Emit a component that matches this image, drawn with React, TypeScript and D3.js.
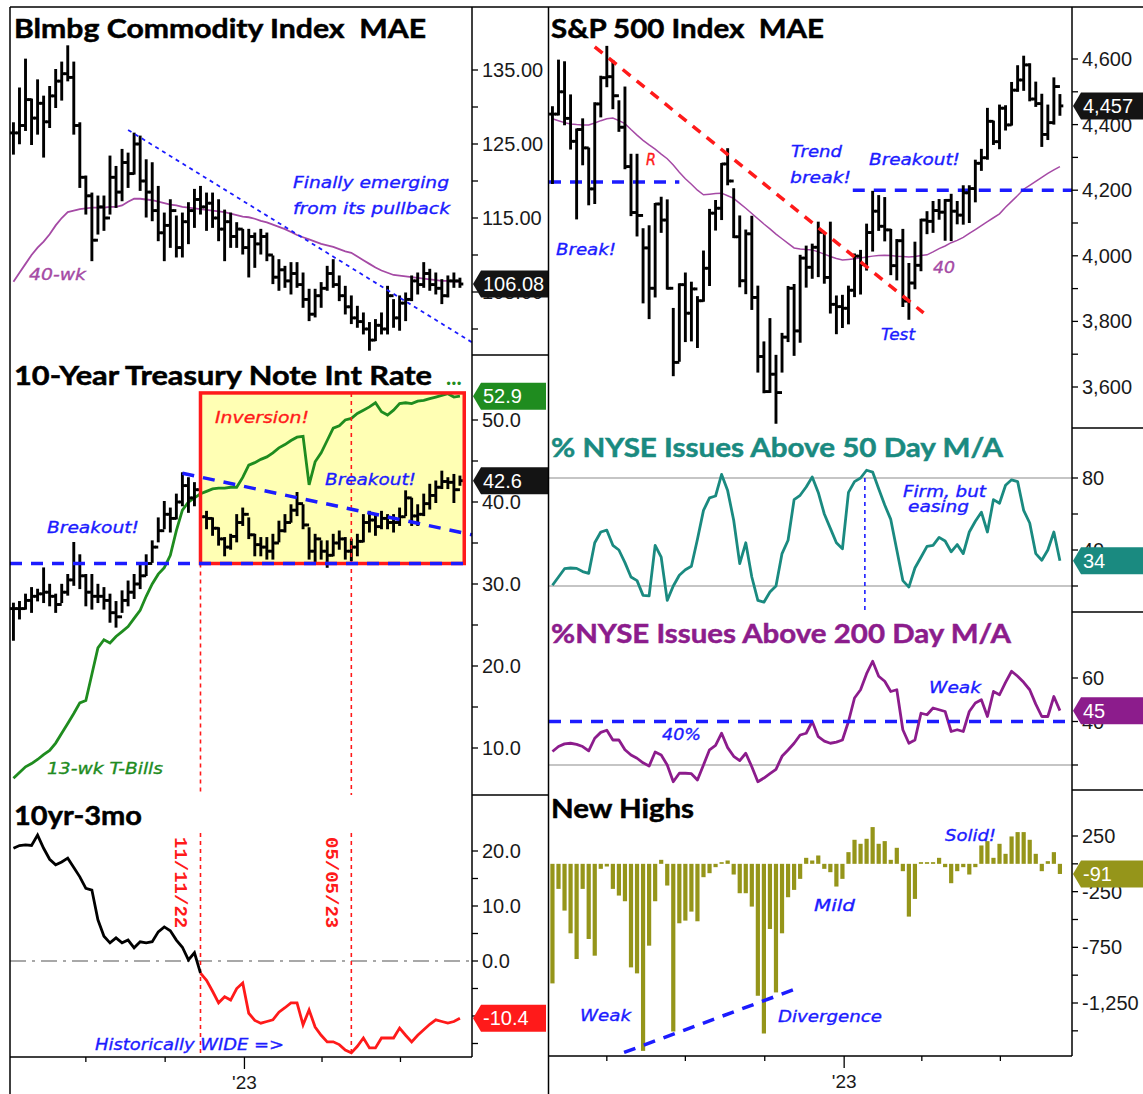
import * as d3 from 'd3'

// ─── Data ────────────────────────────────────────────────────────────────────

// weekly bars, left column (commodities / rates) and right column (equities)
const comStart = new Date(2022, 3, 8)
const spxStart = new Date(2022, 0, 28)

const comHigh = [
  127.8, 132.5, 136.4, 131.0, 133.6, 131.4, 132.7, 135.0, 136.0, 138.2,
  136.0, 127.8, 120.6, 118.3, 117.9, 117.9, 123.3, 121.9, 124.2, 123.7,
  126.4, 126.0, 122.8, 122.4, 119.2, 115.6, 117.4, 115.2, 115.6, 117.0,
  118.8, 119.2, 118.3, 118.3, 117.4, 116.0, 115.6, 114.3, 113.4, 113.4,
  112.9, 113.4, 112.9, 109.8, 109.3, 108.4, 108.9, 108.9, 107.5, 105.3,
  105.3, 106.2, 108.4, 109.3, 107.1, 105.7, 104.4, 103.0, 102.1, 100.8,
  101.2, 102.1, 105.7, 103.9, 104.4, 104.8, 107.1, 107.5, 108.9, 108.0,
  107.5, 106.6, 107.1, 107.5, 106.8,
]
const comLow = [
  123.7, 125.1, 126.9, 125.0, 126.4, 123.3, 127.3, 130.0, 131.0, 133.6,
  126.4, 119.2, 115.6, 109.3, 112.9, 113.4, 115.6, 116.5, 117.4, 119.2,
  121.0, 118.8, 115.2, 114.7, 112.0, 109.3, 111.1, 109.8, 109.8, 111.6,
  113.8, 115.6, 113.4, 113.8, 112.0, 109.3, 111.1, 111.1, 110.2, 107.1,
  108.4, 110.2, 109.3, 106.2, 105.3, 105.7, 104.8, 105.7, 103.0, 101.2,
  101.7, 103.0, 105.3, 105.7, 103.9, 102.1, 100.8, 100.3, 99.4, 97.2,
  98.5, 99.4, 99.4, 100.3, 99.9, 101.2, 103.9, 104.8, 105.7, 105.3,
  104.8, 103.5, 104.4, 105.7, 105.7,
]
const comClose = [
  126.5, 127.5, 131.0, 128.5, 130.5, 128.0, 131.5, 133.5, 134.5, 134.0,
  127.5, 120.5, 118.0, 112.0, 116.5, 115.0, 120.5, 118.5, 122.5, 121.0,
  125.0, 120.0, 118.5, 116.0, 113.0, 114.0, 116.0, 111.0, 114.5, 116.0,
  117.5, 116.5, 117.0, 115.0, 113.5, 114.5, 112.5, 113.5, 111.0, 112.5,
  111.5, 112.5, 110.0, 107.0, 108.0, 106.5, 107.5, 106.0, 104.0, 102.0,
  104.5, 105.5, 107.5, 106.0, 104.5, 103.0, 101.5, 101.0, 100.0, 98.5,
  100.5, 100.0, 104.5, 101.5, 103.5, 104.0, 106.5, 106.0, 107.5, 106.0,
  105.5, 104.5, 106.5, 106.5, 106.08,
]
const comMa40 = [
  106.4, 107.6, 108.8, 110.0, 111.0, 111.8, 112.8, 114.0, 115.0, 115.8,
  116.0, 116.2, 116.3, 116.4, 116.4, 116.4, 116.5, 116.5, 116.7, 117.2,
  117.6, 117.6, 117.5, 117.4, 117.2, 117.0, 116.8, 116.7, 116.5, 116.4,
  116.3, 116.2, 116.1, 116.0, 115.9, 115.8, 115.6, 115.4, 115.2, 115.1,
  114.9, 114.6, 114.4, 114.1, 113.8, 113.5, 113.1, 112.7, 112.4, 112.1,
  111.8, 111.5, 111.3, 111.1, 110.8, 110.5, 110.3, 109.8, 109.3, 108.8,
  108.3, 107.9, 107.6, 107.3, 107.2, 107.1, 107.0, 106.9, 106.8, 106.7,
  106.6, 106.5, 106.5, 106.4, 106.4,
]

// 10-year yield (x10)
const tnxHigh = [
  27.6, 27.8, 28.7, 29.5, 29.3, 31.9, 29.9, 28.7, 29.9, 31.1,
  35.0, 33.5, 31.1, 31.1, 29.9, 29.5, 28.7, 27.8, 29.1, 30.3,
  31.1, 32.3, 33.5, 35.2, 38.0, 40.0, 39.2, 40.9, 43.5, 42.9,
  42.3, 39.4, 38.8, 38.0, 36.8, 35.6, 36.0, 38.4, 39.2, 38.0,
  36.0, 35.6, 35.6, 36.0, 37.6, 38.4, 39.6, 41.1, 39.6, 36.8,
  36.0, 35.2, 35.2, 36.0, 36.4, 35.6, 35.4, 36.0, 38.4, 38.8,
  38.4, 38.8, 38.4, 38.4, 39.2, 41.3, 40.4, 39.6, 40.9, 42.1,
  42.5, 43.7, 42.9, 43.3, 43.1,
]
const tnxLow = [
  23.2, 25.8, 27.0, 26.6, 28.0, 27.8, 27.4, 26.6, 27.8, 28.7,
  29.9, 29.5, 27.4, 27.0, 27.8, 27.0, 25.4, 24.8, 26.6, 27.4,
  28.3, 29.5, 31.1, 32.7, 35.2, 36.8, 36.4, 38.0, 39.6, 38.8,
  39.6, 37.6, 36.8, 36.0, 34.8, 33.5, 34.3, 35.2, 37.2, 35.6,
  33.5, 33.5, 33.1, 33.1, 35.2, 36.4, 37.6, 38.4, 36.8, 33.1,
  32.7, 33.1, 32.1, 33.5, 34.3, 33.1, 32.9, 33.5, 35.2, 36.4,
  36.0, 36.8, 36.8, 36.4, 37.2, 38.4, 37.2, 37.2, 38.4, 39.2,
  40.0, 41.7, 41.7, 40.0, 42.1,
]
const tnxClose = [
  27.0, 27.0, 28.0, 28.5, 28.8, 29.0, 28.5, 27.5, 29.0, 30.5,
  32.5, 31.0, 29.0, 28.5, 28.5, 28.0, 26.5, 26.0, 28.0, 29.0,
  30.0, 31.0, 32.5, 34.5, 36.5, 38.5, 38.0, 40.0, 42.0, 40.5,
  41.5, 38.2, 38.0, 36.8, 35.5, 34.5, 35.8, 37.5, 38.5, 36.0,
  34.8, 34.5, 34.0, 35.0, 36.5, 37.5, 39.0, 39.8, 37.2, 34.0,
  35.5, 34.0, 33.5, 35.0, 35.5, 34.0, 34.5, 35.2, 37.5, 37.8,
  37.0, 38.0, 37.5, 37.5, 38.2, 40.5, 38.3, 38.5, 39.8, 40.8,
  41.8, 42.5, 42.4, 41.5, 42.6,
]
// 13-week T-bill (x10)
const tbill13 = [
  6.3, 7.0, 7.7, 8.1, 8.6, 9.2, 9.7, 10.6, 11.8, 13.0,
  14.2, 15.5, 15.8, 19.0, 22.2, 23.2, 22.8, 23.6, 24.2, 24.8,
  25.8, 26.8, 28.5, 30.0, 31.2, 32.0, 33.5, 36.5, 39.0, 40.0,
  40.5, 41.0, 41.3, 41.6, 41.7, 41.7, 41.8, 41.8, 43.0, 44.5,
  44.8, 45.2, 45.5, 46.0, 46.6, 47.0, 47.5, 47.9, 48.0, 42.1,
  44.9, 46.0, 47.5, 49.0, 49.3, 50.0, 50.2, 50.8, 51.2, 51.6,
  52.1, 51.0, 50.6, 51.2, 52.0, 52.1, 52.0, 52.3, 52.4, 52.6,
  52.8, 53.0, 53.2, 52.8, 52.9,
]
// 10yr - 3mo spread
const spread = [
  20.5, 21.0, 21.1, 21.0, 22.9, 20.5, 18.5, 17.5, 18.0, 18.7,
  17.0, 15.3, 13.2, 12.9, 7.5, 4.5, 3.3, 4.2, 3.3, 3.8,
  2.4, 3.5, 3.3, 3.5, 5.3, 6.2, 5.5, 3.8, 2.5, 0.2,
  1.5, -2.2, -3.5, -5.5, -7.6, -6.5, -7.1, -5.0, -4.0, -9.5,
  -10.8, -11.3, -11.0, -10.7, -9.3, -8.5, -7.6, -7.6, -11.6, -8.9,
  -12.0, -13.5, -14.7, -14.7, -15.2, -16.2, -16.7, -15.5, -14.0, -15.8,
  -15.8, -14.0, -14.0, -14.0, -12.2, -13.5, -14.7, -13.5, -12.5, -11.5,
  -10.7, -11.0, -11.3, -11.0, -10.4,
]
const spreadInvertIdx = 31

// S&P 500 weekly
const spxHigh = [
  4453, 4595, 4590, 4489, 4385, 4416, 4327, 4465, 4546, 4637,
  4594, 4471, 4513, 4308, 4308, 4081, 4090, 4158, 4177, 4169,
  3838, 3913, 3946, 3918, 3874, 4013, 4140, 4167, 4280, 4325,
  4203, 4120, 4077, 4119, 3906, 3736, 3807, 3695, 3762, 3905,
  3911, 4000, 4028, 4034, 4101, 4069, 4101, 3876, 3878, 3906,
  4004, 4015, 4095, 4195, 4182, 4176, 4079, 4048, 4079, 3975,
  4040, 4110, 4133, 4164, 4170, 4170, 4186, 4164, 4212, 4212,
  4290, 4323, 4448, 4409, 4458, 4456, 4527, 4578, 4607, 4584,
  4528, 4491, 4458, 4541, 4490,
]
const spxLow = [
  4222, 4431, 4401, 4327, 4114, 4279, 4157, 4161, 4425, 4517,
  4450, 4381, 4267, 4124, 4062, 3858, 3810, 3876, 4073, 3900,
  3636, 3680, 3740, 3742, 3722, 3863, 3911, 4080, 4112, 4218,
  4057, 3907, 3886, 3838, 3647, 3584, 3585, 3491, 3647, 3740,
  3698, 3738, 3906, 3933, 3938, 3918, 3827, 3764, 3783, 3794,
  3877, 3885, 3958, 4016, 4079, 4047, 3944, 3928, 3847, 3808,
  3901, 3956, 4069, 4073, 4113, 4049, 4048, 4099, 4098, 4103,
  4166, 4262, 4296, 4341, 4328, 4385, 4400, 4503, 4506, 4474,
  4457, 4335, 4356, 4403, 4430,
]
const spxClose = [
  4432, 4500, 4419, 4349, 4385, 4329, 4204, 4463, 4543, 4546,
  4488, 4392, 4272, 4132, 4123, 4024, 3901, 4158, 4109, 3901,
  3675, 3912, 3825, 3899, 3863, 3962, 4130, 4145, 4280, 4228,
  4058, 3924, 4067, 3873, 3693, 3586, 3639, 3583, 3752, 3901,
  3771, 3993, 3965, 4026, 4072, 3934, 3852, 3845, 3840, 3895,
  3999, 3973, 4071, 4136, 4090, 4079, 3970, 4046, 3862, 3917,
  3971, 4109, 4105, 4138, 4133, 4169, 4136, 4124, 4192, 4205,
  4282, 4299, 4410, 4348, 4450, 4399, 4505, 4536, 4582, 4478,
  4464, 4370, 4406, 4516, 4457,
]
const spxMa40 = [
  4418, 4412, 4406, 4402, 4400, 4399, 4399, 4405, 4412, 4418,
  4420, 4412, 4403, 4385, 4368, 4352, 4338, 4325, 4310, 4296,
  4277, 4255, 4235, 4218, 4200, 4186, 4188, 4190, 4191, 4183,
  4175, 4160, 4145, 4129, 4113, 4097, 4082, 4066, 4052, 4038,
  4024, 4021, 4019, 4018, 4012, 4005, 3998, 3992, 3987, 3989,
  3991, 3993, 3996, 3999, 4001, 4002, 4001, 3999, 3998, 3996,
  3998, 4001, 4003, 4012, 4022, 4030, 4040, 4047, 4056, 4068,
  4080, 4092, 4104, 4116, 4128, 4148, 4166, 4184, 4203, 4215,
  4227, 4239, 4251, 4262, 4272,
]
const nyse50 = [
  20.4, 25, 29.6, 30, 29.8, 28, 27, 44, 50, 51,
  42.6, 40, 33, 25, 23, 14.8, 14.5, 42.6, 36, 12,
  20, 26, 29, 31, 46, 62, 69, 70, 82, 73,
  56.5, 32.4, 44, 25, 12, 11, 16.7, 20, 38, 45.4,
  68, 70.4, 75, 80.6, 72, 60, 52, 44, 40.7, 72,
  78, 80, 84.3, 83.3, 74, 65, 57, 40, 23, 19.4,
  30, 36, 42, 42.6, 47, 45, 39, 43, 38, 50,
  56, 61, 50, 68, 66, 76, 79, 78, 62, 55,
  38, 34.3, 40, 50, 34,
]
const nyse200 = [
  26.2, 28.5, 29.7, 30, 29.5, 28.5, 26.5, 32.3, 35, 36,
  31.5, 31.5, 27, 24.6, 23.1, 21, 19.5, 26, 24.6, 20,
  12.3, 16.2, 16.2, 16, 13.1, 20, 27, 29, 34.6, 28,
  24, 22, 25.4, 19.2, 12.3, 14, 16, 18, 24, 26.9,
  30, 33.8, 34.6, 40, 33, 31, 30, 30.5, 31.5, 40,
  50.8, 54.6, 62, 67.7, 60.8, 58.5, 53.8, 54.6, 36.2, 30,
  31.5, 43.8, 43.1, 46.2, 45.4, 44.6, 35.4, 36.2, 35.4, 44.6,
  48.5, 50, 42.3, 53.8, 52.3, 58, 63.1, 60.8, 58, 54.6,
  48, 42.3, 42.3, 51.5, 45,
]
const newHighs = [
  -1074, -225, -420, -624, -855, -225, -675, -825, -45, -24,
  -225, -285, -336, -930, -984, -1680, -735, -336, 36, -195,
  -1506, -534, -510, -429, -516, -120, -84, -30, 15, 30,
  -96, -264, -264, -384, -1185, -1524, -585, -1155, -624, -300,
  -234, -135, 54, 30, 75, -45, -75, -204, -135, 105,
  216, 180, 225, 330, 180, 204, 36, 144, -66, -474,
  -315, 15, 15, 15, 54, -30, -174, -66, -30, -96,
  -30, 165, 204, 54, 180, 90, 246, 285, 285, 216,
  90, -66, 24, 105, -91,
]

// trend lines / levels drawn on the charts
const comTrend = [{ d: new Date(2022, 7, 19), v: 126.9 }, { d: new Date(2023, 8, 22), v: 98.2 }]
const tnxTrend = [{ d: new Date(2022, 9, 21), v: 43.5 }, { d: new Date(2023, 8, 22), v: 36.0 }]
const tnxBreakLevel = 32.5
const inversionBox = { from: new Date(2022, 10, 11), to: new Date(2023, 8, 13), lo: 32.5, hi: 53.3 }
const markDates = [new Date(2022, 10, 11), new Date(2023, 4, 5)]
const markLabels = ['11/11/22', '05/05/23']
const spxTrend = [{ d: new Date(2022, 2, 18), v: 4637 }, { d: new Date(2023, 3, 3), v: 3826 }]
const spxBreak = { from: new Date(2022, 0, 24), to: new Date(2022, 5, 24), v: 4225 }
const spxBreakout = { from: new Date(2023, 0, 11), to: new Date(2023, 8, 22), v: 4200 }
const n50Mark = new Date(2023, 0, 25)
const n200Level = 40
const nhTrend = [{ d: new Date(2022, 3, 21), v: -1694 }, { d: new Date(2022, 10, 5), v: -1126 }]

const leftTicks = [new Date(2022, 6, 1), new Date(2022, 9, 1), new Date(2023, 0, 1), new Date(2023, 3, 1), new Date(2023, 6, 1)]
const rightTicks = [new Date(2022, 3, 1), ...leftTicks]
const yearTick = new Date(2023, 0, 1)

// ─── Constants ───────────────────────────────────────────────────────────────

const W = 1143
const H = 1094
const BLUE = '#1c1cff'
const RED = '#ff1a1a'
const GREEN = '#1f8c1f'
const TEAL = '#1a8a80'
const PURPLE = '#8c1c8c'
const OLIVE = '#95951a'
const MA = '#a54aa5'
const TITLE_FONT = 'Lato, "Open Sans", sans-serif'
const NOTE_FONT = '"DejaVu Sans", Verdana, sans-serif'
const AXIS_FONT = '"Liberation Sans", Arial, sans-serif'

const LX0 = 10, LAX = 472, LEDGE = 548
const RX0 = 549, RAX = 1072

const xL = d3.scaleTime().domain([new Date(2022, 3, 4), new Date(2023, 8, 22)]).range([LX0, LAX])
const xR = d3.scaleTime().domain([new Date(2022, 0, 24), new Date(2023, 8, 22)]).range([RX0, RAX])
const yCom = d3.scaleLinear().domain([135, 115]).range([70, 218])
const yTnx = d3.scaleLinear().domain([50, 10]).range([420, 748])
const ySpr = d3.scaleLinear().domain([20, 0]).range([851, 961])
const ySpx = d3.scaleLinear().domain([4600, 3600]).range([59, 387])
const yN50 = d3.scaleLinear().domain([80, 40]).range([478, 550])
const yN200 = d3.scaleLinear().domain([60, 40]).range([678, 721.5])
const yNH = d3.scaleLinear().domain([250, -1250]).range([836, 1003])

type Scale = (v: any) => number

const weeks = (start: Date, n: number) => d3.range(n).map((i) => d3.timeDay.offset(start, 7 * i))
const fmtPlain = (f: string) => (v: number) => d3.format(f)(v).replace('\u2212', '-')

const path = (dates: Date[], vals: number[], x: Scale, y: Scale) =>
  d3.line<number>().x((_, i) => x(dates[i])).y((v) => y(v))(vals) ?? ''

// ─── Pieces ──────────────────────────────────────────────────────────────────

function OhlcBars({ dates, hi, lo, cl, x, y }: { dates: Date[]; hi: number[]; lo: number[]; cl: number[]; x: Scale; y: Scale }) {
  return (
    <g stroke="#000" strokeWidth={2.9}>
      {dates.map((d, i) => {
        const cx = x(d)
        const op = i ? cl[i - 1] : cl[i]
        return (
          <g key={i}>
            <line x1={cx} x2={cx} y1={y(hi[i]) - 1} y2={y(lo[i]) + 1} />
            <line x1={cx - 3.4} x2={cx} y1={y(op)} y2={y(op)} />
            <line x1={cx} x2={cx + 3.4} y1={y(cl[i])} y2={y(cl[i])} />
          </g>
        )
      })}
    </g>
  )
}

function YTicks({ ax, y, major, minor, fmt }: { ax: number; y: Scale; major: number[]; minor: number[]; fmt: (v: number) => string }) {
  return (
    <g>
      {[...major, ...minor].map((v) => (
        <line key={'t' + v} x1={ax} x2={ax + 6} y1={y(v)} y2={y(v)} stroke="#000" strokeWidth={1.3} />
      ))}
      {major.map((v) => (
        <text key={'l' + v} x={ax + 10} y={y(v) + 7} fontSize={20} fontFamily={AXIS_FONT} fill="#1a1a1a">
          {fmt(v)}
        </text>
      ))}
    </g>
  )
}

function Tag({ ax, cy, text, fill, right }: { ax: number; cy: number; text: string; fill: string; right: number }) {
  const h = 13.5
  return (
    <g>
      <path d={`M${ax + 1},${cy} L${ax + 9},${cy - h} H${right} V${cy + h} H${ax + 9} Z`} fill={fill} />
      <text x={ax + 11} y={cy + 7} fontSize={20} fontFamily={AXIS_FONT} fill="#fff">
        {text}
      </text>
    </g>
  )
}

function XTicks({ ticks, x, y0 }: { ticks: Date[]; x: Scale; y0: number }) {
  return (
    <g stroke="#000" strokeWidth={1.3}>
      {ticks.map((d, i) => {
        const major = +d === +yearTick
        return (
          <g key={i}>
            <line x1={x(d)} x2={x(d)} y1={y0} y2={y0 + (major ? 12 : 5)} />
            {major && (
              <text x={x(d)} y={y0 + 32} textAnchor="middle" stroke="none" fill="#1a1a1a" fontSize={19} fontFamily={AXIS_FONT}>
                '23
              </text>
            )}
          </g>
        )
      })}
    </g>
  )
}

function Title({ x, y, text, len, color = '#000' }: { x: number; y: number; text: string; len: number; color?: string }) {
  return (
    <text x={x} y={y} fontSize={27} fontWeight={700} fontFamily={TITLE_FONT} fill={color}
      stroke={color} strokeWidth={0.5}
      textLength={len} lengthAdjust="spacingAndGlyphs" style={{ whiteSpace: 'pre' }}>
      {text}
    </text>
  )
}

function Note({ x, y, text, len, color = BLUE, size = 16 }: { x: number; y: number; text: string; len: number; color?: string; size?: number }) {
  return (
    <text x={x} y={y} fontSize={size} fontStyle="italic" fontFamily={NOTE_FONT} fill={color}
      stroke={color} strokeWidth={0.35}
      textLength={len} lengthAdjust="spacingAndGlyphs">
      {text}
    </text>
  )
}

// ─── App ─────────────────────────────────────────────────────────────────────

export default function App() {
  const comDates = weeks(comStart, comClose.length)
  const spxDates = weeks(spxStart, spxClose.length)
  const last = (a: number[]) => a[a.length - 1]

  const boxX0 = xL(inversionBox.from)
  const boxX1 = xL(inversionBox.to)
  const boxY0 = yTnx(inversionBox.hi)
  const boxY1 = yTnx(inversionBox.lo)

  return (
    <div style={{ position: 'absolute', left: 0, top: 0, width: W, height: H, background: '#fff' }}>
      <svg width={W} height={H} style={{ display: 'block' }}>
        <defs>
          <clipPath id="clipL"><rect x={LX0} y={0} width={LEDGE - LX0} height={H} /></clipPath>
          <clipPath id="clipR"><rect x={RX0} y={0} width={W - RX0} height={H} /></clipPath>
        </defs>

        {/* ── Left column ── */}
        <g clipPath="url(#clipL)">
          {/* commodity panel */}
          <path d={path(comDates, comMa40, xL, yCom)} fill="none" stroke={MA} strokeWidth={1.8} />
          <OhlcBars dates={comDates} hi={comHigh} lo={comLow} cl={comClose} x={xL} y={yCom} />
          <line x1={xL(comTrend[0].d)} y1={yCom(comTrend[0].v)} x2={xL(comTrend[1].d)} y2={yCom(comTrend[1].v)}
            stroke={BLUE} strokeWidth={1.8} strokeDasharray="4,4" />

          {/* 10yr panel */}
          <rect x={boxX0} y={boxY0} width={boxX1 - boxX0} height={boxY1 - boxY0} fill="#ffffb4" />
          <path d={path(comDates, tbill13, xL, yTnx)} fill="none" stroke={GREEN} strokeWidth={2.8} />
          <OhlcBars dates={comDates} hi={tnxHigh} lo={tnxLow} cl={tnxClose} x={xL} y={yTnx} />
          <rect x={boxX0} y={boxY0} width={boxX1 - boxX0} height={boxY1 - boxY0} fill="none" stroke={RED} strokeWidth={3.5} />
          <line x1={xL(markDates[1])} x2={xL(markDates[1])} y1={boxY0} y2={795}
            stroke={RED} strokeWidth={1.6} strokeDasharray="4,4" />
          <line x1={xL(markDates[0])} x2={xL(markDates[0])} y1={boxY1} y2={795}
            stroke={RED} strokeWidth={1.6} strokeDasharray="4,4" />
          <line x1={LX0} x2={boxX1 + 3} y1={yTnx(tnxBreakLevel)} y2={yTnx(tnxBreakLevel)}
            stroke={BLUE} strokeWidth={3.5} strokeDasharray="12,9" />
          <line x1={xL(tnxTrend[0].d)} y1={yTnx(tnxTrend[0].v)} x2={xL(tnxTrend[1].d)} y2={yTnx(tnxTrend[1].v)}
            stroke={BLUE} strokeWidth={3.5} strokeDasharray="12,9" />

          {/* 10yr-3mo panel */}
          <line x1={LX0} x2={LAX} y1={ySpr(0)} y2={ySpr(0)} stroke="#8c8c8c" strokeWidth={1.5} strokeDasharray="16,6,3,6" />
          {markDates.map((d, i) => (
            <g key={i}>
              <line x1={xL(d)} x2={xL(d)} y1={833} y2={1057} stroke={RED} strokeWidth={1.6} strokeDasharray="4,4" />
              <text transform={`translate(${xL(d) - 25},837) rotate(90)`} fontSize={19} fontWeight={700}
                fontFamily='"Liberation Mono", "Courier New", monospace' fill={RED}>
                {markLabels[i]}
              </text>
            </g>
          ))}
          <path d={path(comDates.slice(0, spreadInvertIdx + 1), spread.slice(0, spreadInvertIdx + 1), xL, ySpr)}
            fill="none" stroke="#000" strokeWidth={2.8} />
          <path d={path(comDates.slice(spreadInvertIdx), spread.slice(spreadInvertIdx), xL, ySpr)}
            fill="none" stroke={RED} strokeWidth={2.8} />

          {/* axes */}
          <YTicks ax={LAX} y={yCom} major={[135, 125, 115, 105]} minor={[130, 120, 110, 100]} fmt={fmtPlain('.2f')} />
          <YTicks ax={LAX} y={yTnx} major={[50, 40, 30, 20, 10]} minor={[45, 35, 25, 15]} fmt={fmtPlain('.1f')} />
          <YTicks ax={LAX} y={ySpr} major={[20, 10, 0, -10]} minor={[15, 5, -5, -15]} fmt={fmtPlain('.1f')} />
          <Tag ax={LAX} cy={yCom(last(comClose))} text={last(comClose).toFixed(2)} fill="#141414" right={LEDGE + 4} />
          <Tag ax={LAX} cy={yTnx(last(tbill13))} text={last(tbill13).toFixed(1)} fill={GREEN} right={LEDGE - 2} />
          <Tag ax={LAX} cy={yTnx(last(tnxClose))} text={last(tnxClose).toFixed(1)} fill="#141414" right={LEDGE + 4} />
          <Tag ax={LAX} cy={ySpr(last(spread))} text={last(spread).toFixed(1)} fill={RED} right={LEDGE - 2} />
          <XTicks ticks={leftTicks} x={xL} y0={1057} />

          {/* titles and notes */}
          <Title x={14} y={38} text="Blmbg Commodity Index  MAE" len={412} />
          <Title x={14} y={385} text="10-Year Treasury Note Int Rate" len={418} />
          <text x={446} y={385} fontSize={22} fontWeight={700} fontFamily={TITLE_FONT} fill={GREEN}>...</text>
          <Title x={14} y={825} text="10yr-3mo" len={128} />
          <Note x={293} y={188} text="Finally emerging" len={156} />
          <Note x={293} y={214} text="from its pullback" len={157} />
          <Note x={29} y={280} text="40-wk" len={57} color={MA} />
          <Note x={215} y={423} text="Inversion!" len={94} color={RED} />
          <Note x={47} y={533} text="Breakout!" len={92} />
          <Note x={325} y={485} text="Breakout!" len={91} />
          <Note x={47} y={774} text="13-wk T-Bills" len={116} color={GREEN} />
          <Note x={95} y={1050} text="Historically WIDE =>" len={189} />
        </g>

        {/* ── Right column ── */}
        <g clipPath="url(#clipR)">
          {/* S&P panel */}
          <path d={path(spxDates, spxMa40, xR, ySpx)} fill="none" stroke={MA} strokeWidth={1.5} />
          <line x1={xR(spxBreak.from)} x2={xR(spxBreak.to)} y1={ySpx(spxBreak.v)} y2={ySpx(spxBreak.v)}
            stroke={BLUE} strokeWidth={3.5} strokeDasharray="12,9" />
          <line x1={xR(spxBreakout.from)} x2={xR(spxBreakout.to)} y1={ySpx(spxBreakout.v)} y2={ySpx(spxBreakout.v)}
            stroke={BLUE} strokeWidth={3.5} strokeDasharray="12,9" />
          <OhlcBars dates={spxDates} hi={spxHigh} lo={spxLow} cl={spxClose} x={xR} y={ySpx} />
          <line x1={xR(spxTrend[0].d)} y1={ySpx(spxTrend[0].v)} x2={xR(spxTrend[1].d)} y2={ySpx(spxTrend[1].v)}
            stroke={RED} strokeWidth={3.5} strokeDasharray="10,8" />

          {/* NYSE 50-day */}
          {[80, 20].map((v) => (
            <line key={v} x1={RX0} x2={RAX} y1={yN50(v)} y2={yN50(v)} stroke="#8c8c8c" strokeWidth={1.2} />
          ))}
          <line x1={xR(n50Mark)} x2={xR(n50Mark)} y1={yN50(80)} y2={612} stroke={BLUE} strokeWidth={1.6} strokeDasharray="4,4" />
          <path d={path(spxDates, nyse50, xR, yN50)} fill="none" stroke={TEAL} strokeWidth={2.8} strokeLinejoin="round" />

          {/* NYSE 200-day */}
          <line x1={RX0} x2={RAX} y1={yN200(20)} y2={yN200(20)} stroke="#8c8c8c" strokeWidth={1.2} />
          <path d={path(spxDates, nyse200, xR, yN200)} fill="none" stroke={PURPLE} strokeWidth={2.8} strokeLinejoin="round" />
          <line x1={RX0} x2={RAX} y1={yN200(n200Level)} y2={yN200(n200Level)} stroke={BLUE} strokeWidth={3.5} strokeDasharray="12,9" />

          {/* New highs */}
          {spxDates.map((d, i) => (
            <rect key={i} x={xR(d) - 2.1} width={4.2}
              y={yNH(Math.max(0, newHighs[i]))} height={Math.abs(yNH(newHighs[i]) - yNH(0))} fill={OLIVE} />
          ))}
          <line x1={xR(nhTrend[0].d)} y1={yNH(nhTrend[0].v)} x2={xR(nhTrend[1].d)} y2={yNH(nhTrend[1].v)}
            stroke={BLUE} strokeWidth={3.5} strokeDasharray="12,9" />

          {/* axes */}
          <YTicks ax={RAX} y={ySpx} major={[4600, 4400, 4200, 4000, 3800, 3600]} minor={[4500, 4300, 4100, 3900, 3700]} fmt={fmtPlain(',')} />
          <YTicks ax={RAX} y={yN50} major={[80, 40]} minor={[60, 20]} fmt={fmtPlain('d')} />
          <YTicks ax={RAX} y={yN200} major={[60, 40]} minor={[20]} fmt={fmtPlain('d')} />
          <YTicks ax={RAX} y={yNH} major={[250, -250, -750, -1250]} minor={[0, -500, -1000, -1500]} fmt={fmtPlain(',')} />
          <Tag ax={RAX} cy={ySpx(last(spxClose))} text={fmtPlain(',')(last(spxClose))} fill="#141414" right={W + 5} />
          <Tag ax={RAX} cy={yN50(last(nyse50))} text={String(last(nyse50))} fill={TEAL} right={W + 5} />
          <Tag ax={RAX} cy={yN200(last(nyse200))} text={String(last(nyse200))} fill={PURPLE} right={W + 5} />
          <Tag ax={RAX} cy={yNH(last(newHighs))} text={String(last(newHighs))} fill={OLIVE} right={W + 5} />
          <XTicks ticks={rightTicks} x={xR} y0={1056} />

          {/* titles and notes */}
          <Title x={551} y={38} text="S&P 500 Index  MAE" len={273} />
          <Title x={551} y={457} text="% NYSE Issues Above 50 Day M/A" len={452} color={TEAL} />
          <Title x={551} y={643} text="%NYSE Issues Above 200 Day M/A" len={460} color={PURPLE} />
          <Title x={551} y={818} text="New Highs" len={143} />
          <Note x={556} y={255} text="Break!" len={60} />
          <Note x={646} y={165} text="R" len={10} color={RED} />
          <Note x={791} y={157} text="Trend" len={51} />
          <Note x={790} y={183} text="break!" len={61} />
          <Note x={869} y={165} text="Breakout!" len={91} />
          <Note x={933} y={273} text="40" len={22} color={MA} />
          <Note x={881} y={340} text="Test" len={34} />
          <Note x={903} y={497} text="Firm, but" len={83} size={15} />
          <Note x={908} y={512} text="easing" len={61} size={15} />
          <Note x={662} y={740} text="40%" len={39} />
          <Note x={929} y={693} text="Weak" len={52} />
          <Note x={814} y={911} text="Mild" len={41} />
          <Note x={945} y={841} text="Solid!" len={51} />
          <Note x={580} y={1021} text="Weak" len={51} />
          <Note x={778} y={1022} text="Divergence" len={104} />
        </g>

        {/* ── Frame ── */}
        <g stroke="#000" strokeWidth={1.5}>
          <line x1={LX0} x2={W} y1={7} y2={7} />
          <line x1={LX0} x2={LX0} y1={7} y2={H} />
          <line x1={LEDGE + 0.5} x2={LEDGE + 0.5} y1={7} y2={H} />
          <line x1={LAX} x2={LAX} y1={7} y2={1057} />
          <line x1={RAX} x2={RAX} y1={7} y2={1056} />
          <line x1={LX0} x2={LAX} y1={1057} y2={1057} />
          <line x1={RX0} x2={RAX} y1={1056} y2={1056} />
          <line x1={LAX} x2={LEDGE} y1={355} y2={355} />
          <line x1={LAX} x2={LEDGE} y1={795} y2={795} />
          <line x1={RAX} x2={W} y1={428} y2={428} />
          <line x1={RAX} x2={W} y1={612} y2={612} />
          <line x1={RAX} x2={W} y1={790} y2={790} />
        </g>
      </svg>
    </div>
  )
}
